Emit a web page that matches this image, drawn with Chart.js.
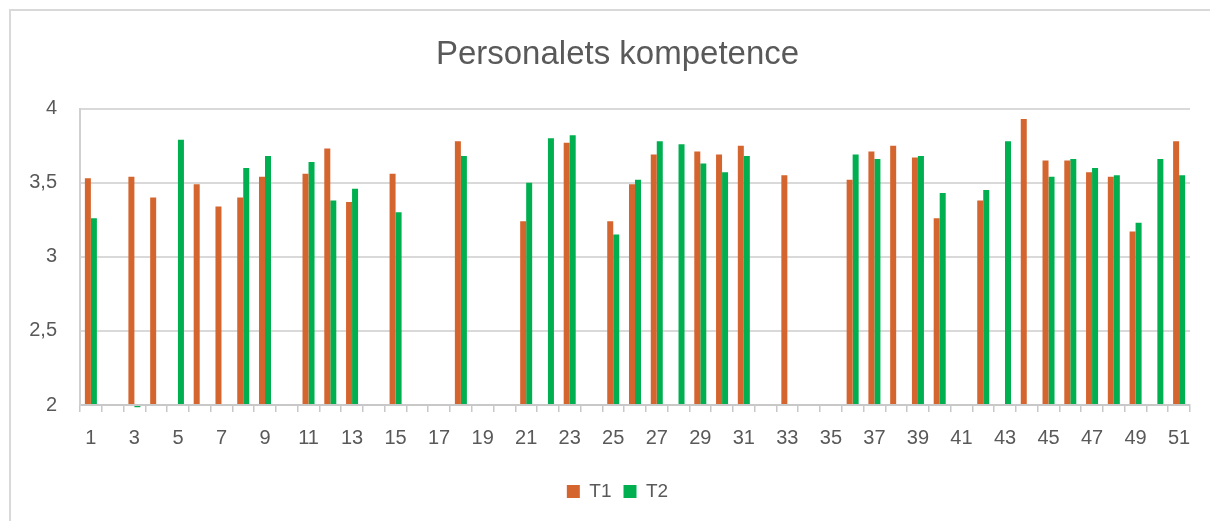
<!DOCTYPE html>
<html>
<head>
<meta charset="utf-8">
<script src="https://cdn.jsdelivr.net/npm/chart.js@4/dist/chart.umd.min.js"></script>
<style>
  html, body { margin: 0; padding: 0; background: #ffffff; overflow: hidden; }
  #wrap { position: relative; width: 1210px; height: 521px; }
  #frame { position: absolute; left: 9px; top: 9px; width: 1220px; height: 530px;
           border-left: 2px solid #d9d9d9; border-top: 2px solid #d9d9d9; }
  canvas { position: absolute; left: 0; top: 0; }
</style>
</head>
<body>
<div id="wrap">
  <div id="frame"></div>
  <canvas id="c" width="1210" height="521"></canvas>
</div>
<script>
const categories = Array.from({length: 51}, (_, i) => String(i + 1));

const t1Values = [
  3.53, null, 3.54, 3.40, null, 3.49, 3.34, 3.40, 3.54, null,
  3.56, 3.73, 3.37, null, 3.56, null, null, 3.78, null, null,
  3.24, null, 3.77, null, 3.24, 3.49, 3.69, null, 3.71, 3.69,
  3.75, null, 3.55, null, null, 3.52, 3.71, 3.75, 3.67, 3.26,
  null, 3.38, null, 3.93, 3.65, 3.65, 3.57, 3.54, 3.17, null,
  3.78
];

const t2Values = [
  3.26, null, 1.985, null, 3.79, null, null, 3.60, 3.68, null,
  3.64, 3.38, 3.46, null, 3.30, null, null, 3.68, null, null,
  3.50, 3.80, 3.82, null, 3.15, 3.52, 3.78, 3.76, 3.63, 3.57,
  3.68, null, null, null, null, 3.69, 3.66, null, 3.68, 3.43,
  null, 3.45, 3.78, null, 3.54, 3.66, 3.60, 3.55, 3.23, 3.66,
  3.55
];

const yTicks = [2, 2.5, 3, 3.5, 4];
const seriesNames = ['T1', 'T2'];
const titleText = 'Personalets kompetence';

const FONT = "'Liberation Sans', Arial, sans-serif";
const TEXT = '#595959';

new Chart(document.getElementById('c'), {
  type: 'bar',
  data: {
    labels: categories,
    datasets: [
      { label: seriesNames[0], data: t1Values, backgroundColor: '#D5652E', base: 2,
        categoryPercentage: 0.552, barPercentage: 1.0, yAxisID: 'y' },
      { label: seriesNames[1], data: t2Values, backgroundColor: '#00B050', base: 2,
        categoryPercentage: 0.552, barPercentage: 1.0, yAxisID: 'y', clip: false }
    ]
  },
  options: {
    responsive: false,
    animation: false,
    devicePixelRatio: 1,
    layout: { padding: { left: 25, right: 0, top: 0, bottom: 10 } },
    plugins: {
      tooltip: { enabled: false },
      title: {
        display: true,
        text: titleText,
        color: TEXT,
        font: { family: FONT, size: 33, weight: 'normal' },
        padding: { top: 35, bottom: 34 }
      },
      legend: {
        display: true,
        position: 'bottom',
        labels: {
          color: TEXT,
          font: { family: FONT, size: 19 },
          boxWidth: 13,
          boxHeight: 13,
          padding: 12
        }
      }
    },
    scales: {
      x: {
        offset: true,
        grid: { display: true, drawOnChartArea: false, drawTicks: true, tickLength: 7,
                color: '#c8c8c8', lineWidth: 1.5, offset: true },
        border: { display: true, color: '#c8c8c8', width: 2 },
        ticks: {
          color: TEXT,
          font: { family: FONT, size: 20 },
          padding: 14,
          autoSkip: false,
          maxRotation: 0,
          minRotation: 0,
          callback: function(value, index) { return index % 2 === 0 ? categories[index] : ''; }
        },
        afterFit: function(s) { s.height = 65; }
      },
      y: {
        position: 'left',
        min: 2,
        max: 4,
        afterBuildTicks: function(s) { s.ticks = yTicks.map(v => ({ value: v })); },
        grid: { color: '#d9d9d9', lineWidth: 2, drawTicks: false },
        border: { display: true, color: '#d0d0d0', width: 2 },
        ticks: {
          color: TEXT,
          font: { family: FONT, size: 20 },
          padding: 23,
          callback: function(v) { return String(v).replace('.', ','); }
        },
        afterFit: function(s) { s.width = 55; }
      },
      yRight: {
        type: 'linear',
        position: 'right',
        display: true,
        grid: { display: false, drawTicks: false },
        border: { display: false },
        ticks: { display: false },
        afterFit: function(s) { s.width = 20; }
      }
    }
  }
});
</script>
</body>
</html>
